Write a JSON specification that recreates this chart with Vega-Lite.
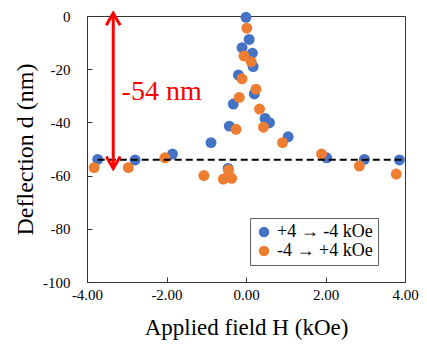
{
  "$schema": "https://vega.github.io/schema/vega-lite/v6.json",
  "width": 318,
  "height": 266,
  "autosize": {"type": "none"},
  "padding": {"left": 87, "top": 16, "right": 22, "bottom": 63},
  "background": "white",
  "datasets": {
    "points": [
      {"series": "+4 → -4 kOe", "H": -3.73, "d": -53.9},
      {"series": "+4 → -4 kOe", "H": -2.79, "d": -54.1},
      {"series": "+4 → -4 kOe", "H": -1.85, "d": -51.9},
      {"series": "+4 → -4 kOe", "H": -0.88, "d": -47.6},
      {"series": "+4 → -4 kOe", "H": -0.45, "d": -57.3},
      {"series": "+4 → -4 kOe", "H": -0.42, "d": -41.4},
      {"series": "+4 → -4 kOe", "H": -0.32, "d": -33.1},
      {"series": "+4 → -4 kOe", "H": -0.19, "d": -22.2},
      {"series": "+4 → -4 kOe", "H": -0.10, "d": -11.9},
      {"series": "+4 → -4 kOe", "H": 0.0, "d": -0.5},
      {"series": "+4 → -4 kOe", "H": 0.08, "d": -8.8},
      {"series": "+4 → -4 kOe", "H": 0.16, "d": -14.0},
      {"series": "+4 → -4 kOe", "H": 0.18, "d": -19.0},
      {"series": "+4 → -4 kOe", "H": 0.21, "d": -29.3},
      {"series": "+4 → -4 kOe", "H": 0.48, "d": -38.5},
      {"series": "+4 → -4 kOe", "H": 0.59, "d": -40.1},
      {"series": "+4 → -4 kOe", "H": 1.06, "d": -45.4},
      {"series": "+4 → -4 kOe", "H": 2.03, "d": -53.3},
      {"series": "+4 → -4 kOe", "H": 2.98, "d": -53.9},
      {"series": "+4 → -4 kOe", "H": 3.86, "d": -54.1},
      {"series": "-4 → +4 kOe", "H": -3.82, "d": -57.0},
      {"series": "-4 → +4 kOe", "H": -2.96, "d": -57.0},
      {"series": "-4 → +4 kOe", "H": -2.04, "d": -53.3},
      {"series": "-4 → +4 kOe", "H": -1.06, "d": -60.0},
      {"series": "-4 → +4 kOe", "H": -0.57, "d": -61.3},
      {"series": "-4 → +4 kOe", "H": -0.44, "d": -57.9},
      {"series": "-4 → +4 kOe", "H": -0.36, "d": -61.0},
      {"series": "-4 → +4 kOe", "H": -0.25, "d": -42.6},
      {"series": "-4 → +4 kOe", "H": -0.17, "d": -30.6},
      {"series": "-4 → +4 kOe", "H": -0.10, "d": -23.6},
      {"series": "-4 → +4 kOe", "H": -0.05, "d": -15.0},
      {"series": "-4 → +4 kOe", "H": 0.02, "d": -4.6},
      {"series": "-4 → +4 kOe", "H": 0.13, "d": -17.2},
      {"series": "-4 → +4 kOe", "H": 0.25, "d": -27.5},
      {"series": "-4 → +4 kOe", "H": 0.34, "d": -35.0},
      {"series": "-4 → +4 kOe", "H": 0.44, "d": -41.8},
      {"series": "-4 → +4 kOe", "H": 0.92, "d": -47.6},
      {"series": "-4 → +4 kOe", "H": 1.90, "d": -51.9},
      {"series": "-4 → +4 kOe", "H": 2.85, "d": -56.4},
      {"series": "-4 → +4 kOe", "H": 3.78, "d": -59.4}
    ],
    "refline": [{"H": -3.73, "H2": 4.0, "d": -54}],
    "arrow": [{"H": -3.34, "top": 1.0, "bottom": -57.3}],
    "heads": [
      {"H": -3.34, "d": 1.0, "end": "top"},
      {"H": -3.34, "d": -57.3, "end": "bottom"}
    ],
    "label": [{"H": -3.13, "d": -31.6, "text": "-54 nm"}]
  },
  "layer": [
    {
      "data": {"name": "points"},
      "mark": {"type": "point", "filled": true, "opacity": 1, "size": 120, "shape": "circle"},
      "encoding": {
        "x": {
          "field": "H", "type": "quantitative",
          "scale": {"domain": [-4, 4], "nice": false, "zero": false},
          "axis": {"values": [-4, -2, 0, 2, 4], "format": ".2f", "title": "Applied field H (kOe)"}
        },
        "y": {
          "field": "d", "type": "quantitative",
          "scale": {"domain": [-100, 0], "nice": false, "zero": false},
          "axis": {"values": [-100, -80, -60, -40, -20, 0], "format": "d", "title": "Deflection d (nm)", "titleFontSize": 24}
        },
        "color": {
          "field": "series", "type": "nominal",
          "scale": {"domain": ["+4 → -4 kOe", "-4 → +4 kOe"], "range": ["#4472C4", "#ED7D31"]},
          "legend": {"title": null}
        }
      }
    },
    {
      "data": {"name": "refline"},
      "mark": {"type": "rule", "color": "black", "strokeWidth": 2, "strokeDash": [7, 4]},
      "encoding": {
        "x": {"field": "H", "type": "quantitative"},
        "x2": {"field": "H2"},
        "y": {"field": "d", "type": "quantitative"}
      }
    },
    {
      "data": {"name": "arrow"},
      "mark": {"type": "rule", "color": "#FF0000", "strokeWidth": 3},
      "encoding": {
        "x": {"field": "H", "type": "quantitative"},
        "y": {"field": "top", "type": "quantitative"},
        "y2": {"field": "bottom"}
      }
    },
    {
      "data": {"name": "heads"},
      "mark": {"type": "point", "filled": false, "stroke": "#FF0000", "strokeWidth": 3, "opacity": 1, "size": 576, "strokeCap": "butt", "strokeJoin": "miter"},
      "encoding": {
        "x": {"field": "H", "type": "quantitative"},
        "y": {"field": "d", "type": "quantitative"},
        "shape": {
          "field": "end", "type": "nominal",
          "scale": {"domain": ["top", "bottom"], "range": ["M-0.58,1L0,0L0.58,1", "M-0.58,-1L0,0L0.58,-1"]},
          "legend": null
        }
      }
    },
    {
      "data": {"name": "label"},
      "mark": {"type": "text", "color": "#FF0000", "font": "Liberation Serif", "fontSize": 28, "align": "left", "baseline": "alphabetic"},
      "encoding": {
        "x": {"field": "H", "type": "quantitative"},
        "y": {"field": "d", "type": "quantitative"},
        "text": {"field": "text"}
      }
    }
  ],
  "config": {
    "locale": {"number": {"decimal": ".", "thousands": ",", "grouping": [3], "currency": ["$", ""], "minus": "-"}},
    "view": {"stroke": "#333333", "strokeWidth": 1},
    "axis": {
      "grid": false,
      "domainColor": "#333333",
      "tickColor": "#333333",
      "tickSize": -5,
      "labelFlush": false,
      "labelFont": "Liberation Serif",
      "labelFontSize": 15,
      "labelColor": "black",
      "titleFont": "Liberation Serif",
      "titleFontSize": 23,
      "titleFontWeight": "normal",
      "titleColor": "black"
    },
    "axisX": {"labelPadding": 10, "titlePadding": 14},
    "axisY": {"labelPadding": 22, "titlePadding": 5},
    "legend": {
      "orient": "none",
      "legendX": 163,
      "legendY": 202,
      "strokeColor": "#606060",
      "fillColor": "white",
      "padding": 5,
      "labelFont": "Liberation Serif",
      "labelFontSize": 18,
      "labelColor": "black",
      "symbolSize": 110,
      "symbolType": "circle",
      "symbolStrokeWidth": 0,
      "rowPadding": 1,
      "labelOffset": 4
    }
  }
}
